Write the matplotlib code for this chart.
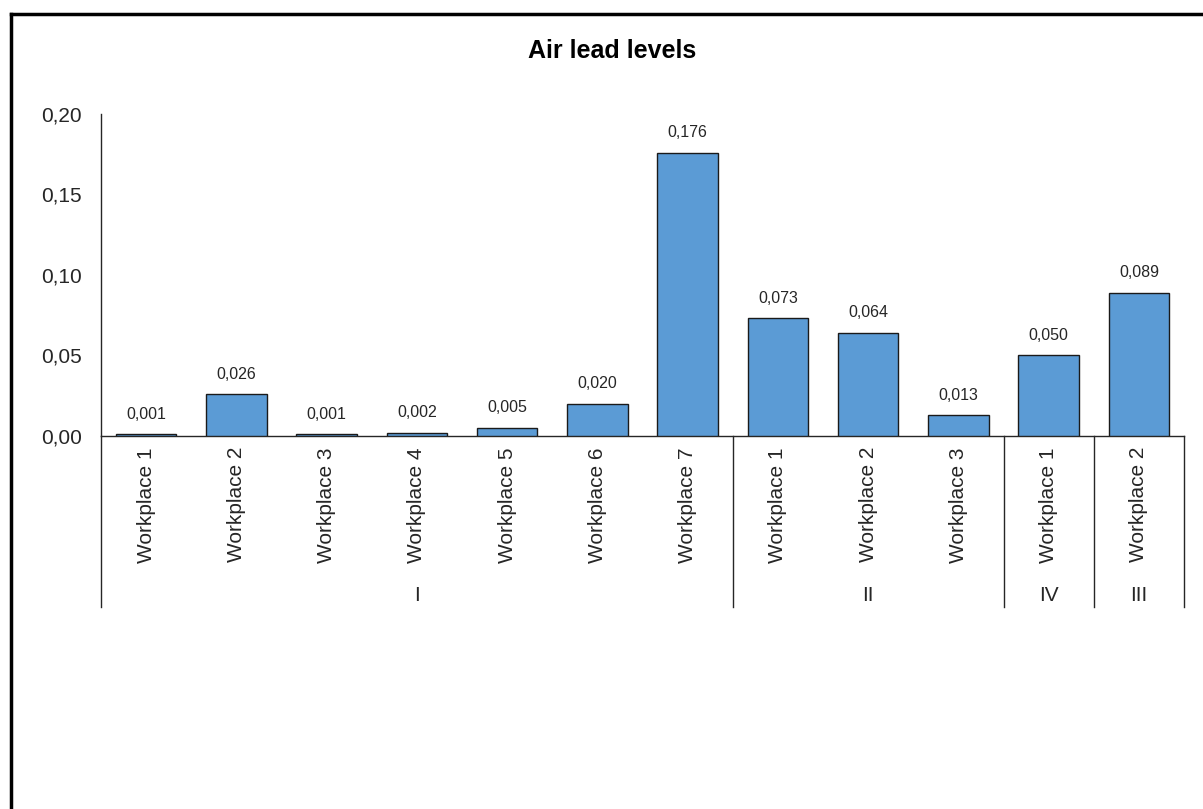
import matplotlib
matplotlib.use("Agg")
import matplotlib.pyplot as plt
import matplotlib.transforms as mtransforms
from matplotlib.lines import Line2D

plt.rcParams['font.family'] = ['Liberation Sans', 'DejaVu Sans']

# data
labels = ["Workplace 1", "Workplace 2", "Workplace 3", "Workplace 4", "Workplace 5",
          "Workplace 6", "Workplace 7",
          "Workplace 1", "Workplace 2", "Workplace 3",
          "Workplace 1",
          "Workplace 2"]
values = [0.001, 0.026, 0.001, 0.002, 0.005, 0.020, 0.176,
          0.073, 0.064, 0.013,
          0.050,
          0.089]
groups = ["I", "II", "IV", "III"]
group_sizes = [7, 3, 1, 1]
yticks = [0.00, 0.05, 0.10, 0.15, 0.20]

fig = plt.figure(figsize=(12.03, 8.09), dpi=100)
ax = fig.add_axes([0.0840, 0.4611, 0.9003, 0.3980])

x = list(range(len(values)))
ax.bar(x, values, width=0.67, color="#5B9BD5", edgecolor="#1a1a1a", linewidth=1.0, zorder=3)

for xi, v in zip(x, values):
    ax.annotate(f"{v:.3f}".replace(".", ","), (xi, v), xytext=(0, 9),
                textcoords="offset points", ha="center", va="bottom", fontsize=11.5,
                color="#262626")

ax.set_xlim(-0.5, len(values) - 0.5)
ax.set_ylim(0, 0.20)
ax.set_yticks(yticks)
ax.set_yticklabels([f"{t:.2f}".replace(".", ",") for t in yticks], fontsize=15, color="#262626")
ax.set_xticks(x)
ax.set_xticklabels(labels, rotation=90, fontsize=15, color="#262626", va="top")
ax.tick_params(axis="both", length=0)
ax.tick_params(axis="x", pad=8)
ax.tick_params(axis="y", pad=14)

for s in ["top", "right"]:
    ax.spines[s].set_visible(False)
ax.spines["left"].set_color("#262626")
ax.spines["bottom"].set_color("#262626")
ax.spines["left"].set_linewidth(1.0)
ax.spines["bottom"].set_linewidth(1.0)

# group separators and group names under the ticks
trans = mtransforms.blended_transform_factory(ax.transData, ax.transAxes)
bottom = -0.531
edges = [-0.5]
for n in group_sizes:
    edges.append(edges[-1] + n)
for e in edges:
    ax.add_line(Line2D([e, e], [0, bottom], transform=trans, color="#262626",
                       linewidth=1.0, clip_on=False))
for g, a, b in zip(groups, edges[:-1], edges[1:]):
    ax.text((a + b) / 2, -0.497, g, transform=trans, ha="center", va="center",
            fontsize=15, color="#262626")

fig.text(0.509, 0.937, "Air lead levels", ha="center", va="center",
         fontsize=18, fontweight="bold", color="#000000")

# chart frame
fig.add_artist(Line2D([0.0095, 1.0], [0.9826, 0.9826], transform=fig.transFigure,
                      color="black", linewidth=2.5))
fig.add_artist(Line2D([0.0095, 0.0095], [0.0, 0.9826], transform=fig.transFigure,
                      color="black", linewidth=2.5))

fig.savefig("out.png", dpi=100)
